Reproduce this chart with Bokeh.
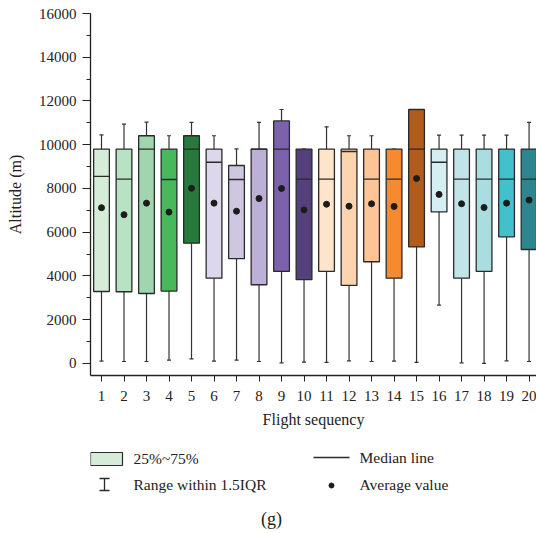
import numpy as np
from bokeh.plotting import figure
from bokeh.models import ColumnDataSource, Range1d, FixedTicker, SingleIntervalTicker
from bokeh.layouts import column
from bokeh.embed import file_html
from bokeh.resources import INLINE

# ---- data ----
flights = list(range(1, 21))
whisker_high = [10450, 10940, 11030, 10410, 11020, 10410, 9810, 11020, 11610, 9800,
                10820, 10410, 10410, 9800, 11610, 10440, 10440, 10440, 10440, 11020]
q3 = [9800, 9800, 10410, 9800, 10410, 9800, 9050, 9800, 11090, 9800,
      9800, 9800, 9800, 9800, 11610, 9800, 9800, 9800, 9800, 9800]
median = [8550, 8430, 9800, 8410, 9800, 9200, 8410, 9800, 9800, 8430,
          8430, 9690, 8430, 8430, 9800, 9200, 8430, 8430, 8430, 8430]
mean = [7120, 6800, 7330, 6920, 8010, 7330, 6960, 7540, 8000, 7020,
        7280, 7190, 7300, 7180, 8460, 7730, 7300, 7130, 7330, 7470]
q1 = [3290, 3280, 3200, 3310, 5500, 3900, 4790, 3600, 4210, 3830,
      4210, 3570, 4650, 3900, 5330, 6930, 3900, 4210, 5790, 5210]
whisker_low = [110, 90, 90, 150, 210, 110, 150, 90, 30, 60,
               50, 120, 90, 110, 50, 2670, 30, 0, 120, 90]
colors = ["#d4ecd8", "#b9e2c3", "#a1d5ae", "#46b95b", "#27793c",
          "#dcd7ea", "#cfc7e1", "#bdb0d6", "#7c62ad", "#54417b",
          "#fde4ca", "#fdd4ae", "#fdc596", "#f58a30", "#b15b1d",
          "#d5eef1", "#c1e4e8", "#aadde2", "#42c1cc", "#2b8690"]
y_ticks_step = 2000

FONT = "Liberation Serif"
EDGE = "#2a2a2a"
W = 536

x = np.array(flights, dtype=float)
box_w = 0.70
cap_w = 0.09
src = ColumnDataSource(dict(
    x=x, q1=q1, q3=q3, med=median, mean=mean, lo=whisker_low, hi=whisker_high,
    color=colors, xl=x - box_w / 2, xr=x + box_w / 2, cl=x - cap_w, cr=x + cap_w,
))

p = figure(width=W, height=435, output_backend="svg", toolbar_location=None,
           x_range=Range1d(0.511, 20.33), y_range=Range1d(-550, 16000),
           min_border_left=90, min_border_right=0, min_border_top=13, min_border_bottom=60)
p.outline_line_color = None
p.xgrid.visible = False
p.ygrid.visible = False
p.background_fill_color = "white"
p.border_fill_color = "white"

# whiskers
p.segment(x0="x", y0="q3", x1="x", y1="hi", source=src, line_color="#333333", line_width=1.2)
p.segment(x0="x", y0="lo", x1="x", y1="q1", source=src, line_color="#333333", line_width=1.2)
p.segment(x0="cl", y0="hi", x1="cr", y1="hi", source=src, line_color="#333333", line_width=1.2)
p.segment(x0="cl", y0="lo", x1="cr", y1="lo", source=src, line_color="#333333", line_width=1.2)
# boxes
p.vbar(x="x", width=box_w, top="q3", bottom="q1", source=src,
       fill_color="color", line_color=EDGE, line_width=1.3)
# median
p.segment(x0="xl", y0="med", x1="xr", y1="med", source=src, line_color=EDGE, line_width=1.3)
# mean
p.scatter(x="x", y="mean", source=src, size=6, fill_color="#1c1c1c", line_color="#1c1c1c")

# axes
p.yaxis.ticker = SingleIntervalTicker(interval=y_ticks_step, num_minor_ticks=2)
p.xaxis.ticker = FixedTicker(ticks=flights)
for ax in (p.xaxis[0], p.yaxis[0]):
    ax.axis_line_color = "#222222"
    ax.axis_line_width = 1.3
    ax.major_tick_line_color = "#222222"
    ax.minor_tick_line_color = "#222222"
    ax.major_tick_in = 0
    ax.minor_tick_in = 0
    ax.major_label_text_font = FONT
    ax.major_label_text_font_size = "15px"
    ax.major_label_text_color = "#222222"
    ax.axis_label_text_font = FONT
    ax.axis_label_text_font_size = "16px"
    ax.axis_label_text_font_style = "normal"
    ax.axis_label_text_color = "#222222"
p.yaxis.major_tick_out = 8
p.yaxis.minor_tick_out = 4
p.yaxis.major_label_standoff = 6
p.yaxis.axis_label = "Altitude (m)"
p.yaxis.axis_label_standoff = 12
p.xaxis.major_tick_out = 6
p.xaxis.minor_tick_out = 0
p.xaxis.major_label_standoff = 9
p.xaxis.axis_label = "Flight sequency"
p.xaxis.axis_label_standoff = 7

# ---- legend panel (page pixel coordinates; frame aligned with main frame) ----
leg = figure(width=W, height=98, output_backend="svg", toolbar_location=None,
             x_range=Range1d(90, 536), y_range=Range1d(533, 435),
             min_border_left=90, min_border_right=0,
             min_border_top=0, min_border_bottom=0)
leg.axis.visible = False
leg.xgrid.visible = False
leg.ygrid.visible = False
leg.outline_line_color = None

leg.rect(x=[106], y=[458.5], width=[32], height=[13], fill_color=colors[0],
         line_color=EDGE, line_width=1.2)
leg.segment(x0=[313], y0=[457], x1=[349], y1=[457], line_color=EDGE, line_width=1.3)
leg.segment(x0=[104], y0=[478], x1=[104], y1=[490], line_color=EDGE, line_width=1.3)
leg.segment(x0=[99, 99], y0=[478, 490], x1=[109, 109], y1=[478, 490], line_color=EDGE, line_width=1.3)
leg.scatter(x=[331], y=[485], size=5, fill_color="#1c1c1c", line_color="#1c1c1c")
leg.text(x=[133, 359, 133, 359], y=[458, 457, 484, 484],
         text=["25%~75%", "Median line", "Range within 1.5IQR", "Average value"],
         text_font=dict(value=FONT), text_font_size=dict(value="15.5px"),
         text_baseline="middle", text_align="left", text_color="#222222")
leg.text(x=[271], y=[518], text=["(g)"], text_font=dict(value=FONT),
         text_font_size=dict(value="18px"), text_baseline="middle", text_align="center",
         text_color="#222222")

layout = column(p, leg, spacing=0)
open("out.html", "w").write(file_html(layout, INLINE))
